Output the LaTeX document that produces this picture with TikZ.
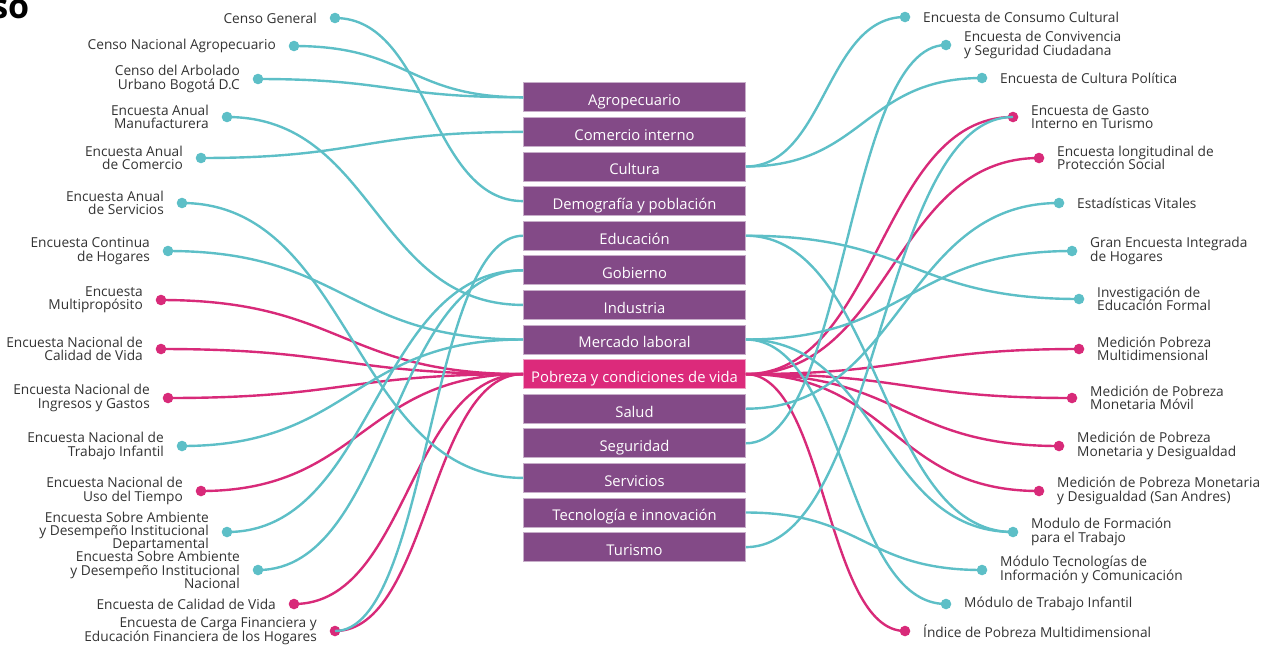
\documentclass[tikz,border=0pt]{standalone}
\usepackage{fontspec}
\setmainfont{Open Sans}
\usetikzlibrary{positioning,calc}
\definecolor{topicpurple}{HTML}{834A87}
\definecolor{topicpink}{HTML}{DC2A7B}
\definecolor{linkteal}{HTML}{5DBFC7}
\definecolor{linkpink}{HTML}{D82A79}
\definecolor{labelgray}{HTML}{333333}
\newcommand{\lblfont}{\fontsize{13.7}{13.4}\selectfont\setlength{\lineskiplimit}{-20pt}}

\begin{document}
\begin{tikzpicture}[x=1pt,y=-1pt,
  topic/.style={fill=topicpurple,draw=topicpurple!45!white,line width=0.8pt,
    minimum width=222pt,minimum height=29pt,inner sep=0pt,text=white,
    font=\fontsize{14.8}{15}\selectfont,text height=16.8pt,text depth=0pt},
  hot topic/.style={topic,fill=topicpink,draw=topicpink!45!white},
  tdot/.style={circle,fill=linkteal,minimum size=10.6pt,inner sep=0pt},
  mdot/.style={circle,fill=linkpink,minimum size=10.6pt,inner sep=0pt},
  lblL/.style={align=right,inner sep=0pt,text=labelgray,font=\lblfont},
  lblR/.style={align=left,inner sep=0pt,text=labelgray,font=\lblfont},
  curvy/.style={to path={let \p1=(\tikztostart), \p2=(\tikztotarget) in
    .. controls ({(\x1+\x2)/2},\y1) and ({(\x1+\x2)/2},\y2) .. (\tikztotarget)}},
  tlink/.style={draw=linkteal,line width=2.4pt,curvy},
  mlink/.style={draw=linkpink,line width=2.4pt,curvy}]
  \useasboundingbox (0,0) rectangle (1268,649);
  \node[anchor=base east,inner sep=0pt,font=\fontsize{34}{34}\selectfont\bfseries] (head) at (29.5,18) {so};
  % topics
  \node[topic]     (agro) at (634.5,97.3)  {Agropecuario};
  \node[topic]     (com)  at (634.5,131.9) {Comercio interno};
  \node[topic]     (cult) at (634.5,166.5) {Cultura};
  \node[topic]     (demo) at (634.5,201.1) {Demografía y población};
  \node[topic]     (edu)  at (634.5,235.7) {Educación};
  \node[topic]     (gob)  at (634.5,270.3) {Gobierno};
  \node[topic]     (ind)  at (634.5,304.9) {Industria};
  \node[topic]     (mlab) at (634.5,339.5) {Mercado laboral};
  \node[hot topic] (pob)  at (634.5,374.1) {Pobreza y condiciones de vida};
  \node[topic]     (sal)  at (634.5,408.7) {Salud};
  \node[topic]     (seg)  at (634.5,443.3) {Seguridad};
  \node[topic]     (serv) at (634.5,477.9) {Servicios};
  \node[topic]     (tec)  at (634.5,512.5) {Tecnología e innovación};
  \node[topic]     (tur)  at (634.5,547.1) {Turismo};
  % left operations
  \node[tdot] (cg)   at (335,18)  {};
  \node[tdot] (cna)  at (294,46)  {};
  \node[tdot] (cab)  at (258,79)  {};
  \node[tdot] (eam)  at (227,117) {};
  \node[tdot] (eac)  at (201,158) {};
  \node[tdot] (eas)  at (182,203) {};
  \node[tdot] (ech)  at (168,251) {};
  \node[mdot] (emp)  at (161,300) {};
  \node[mdot] (encv) at (161,349) {};
  \node[mdot] (enig) at (168,398) {};
  \node[tdot] (enti) at (182,446) {};
  \node[mdot] (enut) at (201,491) {};
  \node[tdot] (edid) at (227,532) {};
  \node[tdot] (edi)  at (258,570) {};
  \node[mdot] (ecv)  at (294,604) {};
  \node[mdot] (ecf)  at (335,631) {};
  \node[lblL,left=12.5pt of cg]   {Censo General};
  \node[lblL,left=12.5pt of cna]  {Censo Nacional Agropecuario};
  \node[lblL,left=12.5pt of cab]  {Censo del Arbolado\\Urbano Bogotá D.C};
  \node[lblL,left=12.5pt of eam]  {Encuesta Anual\\Manufacturera};
  \node[lblL,left=12.5pt of eac]  {Encuesta Anual\\de Comercio};
  \node[lblL,left=12.5pt of eas]  {Encuesta Anual\\de Servicios};
  \node[lblL,left=12.5pt of ech]  {Encuesta Continua\\de Hogares};
  \node[lblL,left=12.5pt of emp]  {Encuesta\\Multipropósito};
  \node[lblL,left=12.5pt of encv] {Encuesta Nacional de\\Calidad de Vida};
  \node[lblL,left=12.5pt of enig] {Encuesta Nacional de\\Ingresos y Gastos};
  \node[lblL,left=12.5pt of enti] {Encuesta Nacional de\\Trabajo Infantil};
  \node[lblL,left=12.5pt of enut] {Encuesta Nacional de\\Uso del Tiempo};
  \node[lblL,left=12.5pt of edid] {Encuesta Sobre Ambiente\\y Desempeño Institucional\\Departamental};
  \node[lblL,left=12.5pt of edi]  {Encuesta Sobre Ambiente\\y Desempeño Institucional\\Nacional};
  \node[lblL,left=12.5pt of ecv]  {Encuesta de Calidad de Vida};
  \node[lblL,left=12.5pt of ecf]  {Encuesta de Carga Financiera y\\Educación Financiera de los Hogares};
  % right operations
  \node[tdot] (ecc)  at (905,17)   {};
  \node[tdot] (ecsc) at (946,45)   {};
  \node[tdot] (ecp)  at (982,78)   {};
  \node[mdot] (egit) at (1013,117) {};
  \node[mdot] (elps) at (1039,158) {};
  \node[tdot] (ev)   at (1059,203) {};
  \node[tdot] (geih) at (1072,251) {};
  \node[tdot] (ief)  at (1079,299) {};
  \node[mdot] (mpm)  at (1079,349) {};
  \node[mdot] (mpmm) at (1072,398) {};
  \node[mdot] (mpmd) at (1059,446) {};
  \node[mdot] (mpsa) at (1039,491) {};
  \node[tdot] (mft)  at (1013,532) {};
  \node[tdot] (mtic) at (982,570)  {};
  \node[tdot] (mti)  at (946,604)  {};
  \node[mdot] (ipm)  at (905,631)  {};
  \node[lblR,right=12.5pt of ecc]  {Encuesta de Consumo Cultural};
  \node[lblR,right=12.5pt of ecsc] {Encuesta de Convivencia\\y Seguridad Ciudadana};
  \node[lblR,right=12.5pt of ecp]  {Encuesta de Cultura Política};
  \node[lblR,right=12.5pt of egit] {Encuesta de Gasto\\Interno en Turismo};
  \node[lblR,right=12.5pt of elps] {Encuesta longitudinal de\\Protección Social};
  \node[lblR,right=12.5pt of ev]   {Estadísticas Vitales};
  \node[lblR,right=12.5pt of geih] {Gran Encuesta Integrada\\de Hogares};
  \node[lblR,right=12.5pt of ief]  {Investigación de\\Educación Formal};
  \node[lblR,right=12.5pt of mpm]  {Medición Pobreza\\Multidimensional};
  \node[lblR,right=12.5pt of mpmm] {Medición de Pobreza\\Monetaria Móvil};
  \node[lblR,right=12.5pt of mpmd] {Medición de Pobreza\\Monetaria y Desigualdad};
  \node[lblR,right=12.5pt of mpsa] {Medición de Pobreza Monetaria\\y Desigualdad (San Andres)};
  \node[lblR,right=12.5pt of mft]  {Modulo de Formación\\para el Trabajo};
  \node[lblR,right=12.5pt of mtic] {Módulo Tecnologías de\\Información y Comunicación};
  \node[lblR,right=12.5pt of mti]  {Módulo de Trabajo Infantil};
  \node[lblR,right=12.5pt of ipm]  {Índice de Pobreza Multidimensional};
  % links
  \path
    (emp.center)  edge[mlink] (pob.west)
    (encv.center) edge[mlink] (pob.west)
    (enig.center) edge[mlink] (pob.west)
    (enut.center) edge[mlink] (pob.west)
    (ecv.center)  edge[mlink] (pob.west)
    (ecf.center)  edge[mlink] (pob.west)
    (egit.center) edge[mlink] (pob.east)
    (elps.center) edge[mlink] (pob.east)
    (mpm.center)  edge[mlink] (pob.east)
    (mpmm.center) edge[mlink] (pob.east)
    (mpmd.center) edge[mlink] (pob.east)
    (mpsa.center) edge[mlink] (pob.east)
    (ipm.center)  edge[mlink] (pob.east);
  \path
    (cg.center)   edge[tlink] (demo.west)
    (cna.center)  edge[tlink] (agro.west)
    (cab.center)  edge[tlink] (agro.west)
    (eam.center)  edge[tlink] (ind.west)
    (eac.center)  edge[tlink] (com.west)
    (eas.center)  edge[tlink] (serv.west)
    (ech.center)  edge[tlink] (mlab.west)
    (enti.center) edge[tlink] (mlab.west)
    (edid.center) edge[tlink] (gob.west)
    (edi.center)  edge[tlink] (gob.west)
    (ecf.center)  edge[tlink] (edu.west)
    (ecc.center)  edge[tlink] (cult.east)
    (ecp.center)  edge[tlink] (cult.east)
    (ecsc.center) edge[tlink] (seg.east)
    (egit.center) edge[tlink] (tur.east)
    (ev.center)   edge[tlink] (sal.east)
    (geih.center) edge[tlink] (mlab.east)
    (ief.center)  edge[tlink] (edu.east)
    (mft.center)  edge[tlink] (edu.east)
    (mft.center)  edge[tlink] (mlab.east)
    (mtic.center) edge[tlink] (tec.east)
    (mti.center)  edge[tlink] (mlab.east);
\end{tikzpicture}
\end{document}
